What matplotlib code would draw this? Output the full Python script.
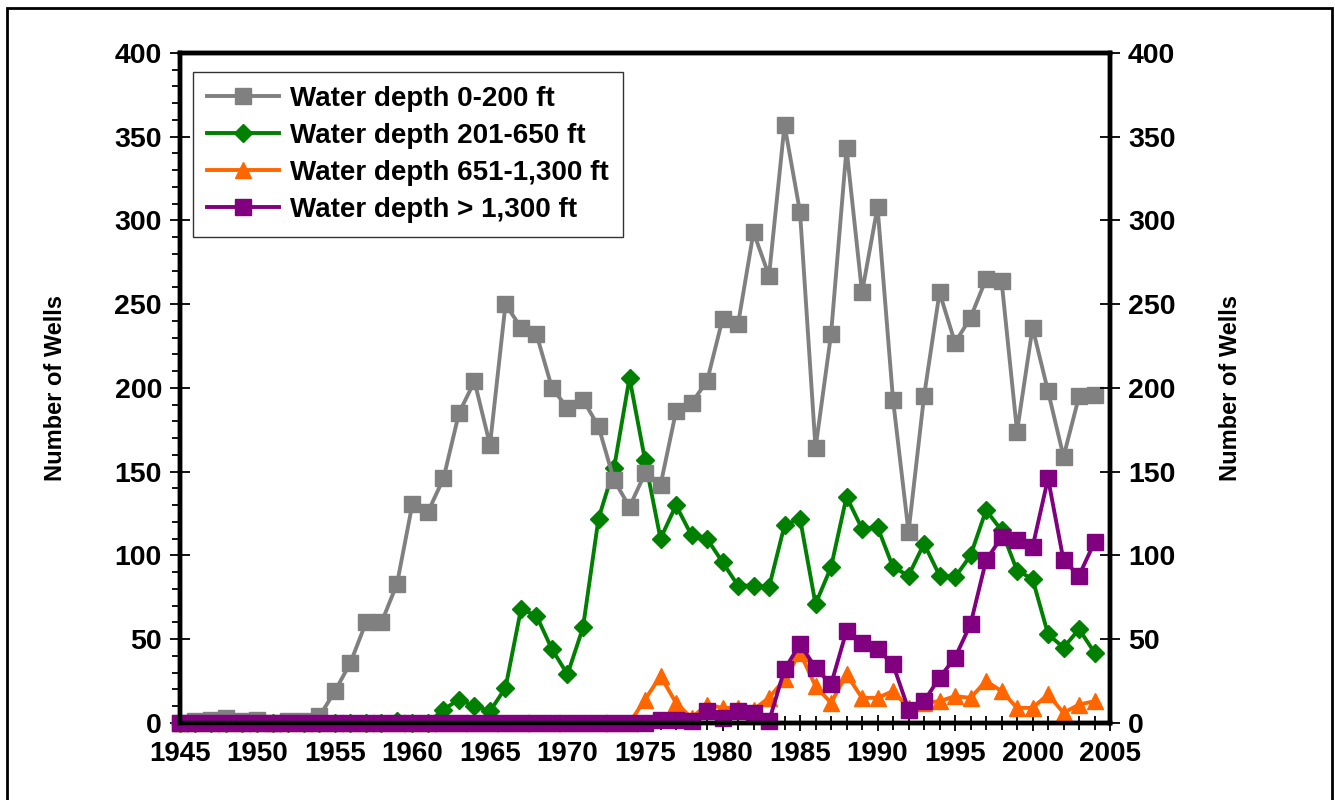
import matplotlib.pyplot as plt
from matplotlib.patches import Rectangle
import numpy as np

plt.rcParams['font.family'] = ['Liberation Sans', 'DejaVu Sans']
plt.rcParams['font.weight'] = 'bold'

years = np.arange(1945, 2005)

# wells drilled per year by water depth
shallow = [0, 1, 2, 3, 1, 2, 0, 1, 1, 4,
           19, 36, 60, 60, 83, 131, 126, 146, 185, 204,
           166, 250, 236, 232, 200, 188, 193, 177, 145, 129,
           149, 142, 186, 191, 204, 241, 238, 293, 267, 357,
           305, 164, 232, 343, 257, 308, 193, 114, 195, 257,
           227, 242, 265, 264, 174, 236, 198, 159, 195, 196]
mid = [0, 0, 0, 0, 0, 0, 0, 0, 0, 0,
       0, 0, 0, 0, 1, 0, 0, 8, 14, 10,
       7, 21, 68, 64, 44, 29, 57, 122, 152, 206,
       157, 110, 130, 112, 110, 96, 82, 82, 81, 118,
       122, 71, 93, 135, 116, 117, 93, 88, 107, 88,
       87, 100, 127, 115, 91, 86, 53, 45, 56, 42]
deep = [0, 0, 0, 0, 0, 0, 0, 0, 0, 0,
        0, 0, 0, 0, 0, 0, 0, 0, 0, 0,
        0, 0, 0, 0, 0, 0, 0, 0, 0, 0,
        14, 28, 12, 3, 11, 9, 9, 8, 15, 26,
        42, 22, 12, 29, 15, 15, 19, 9, 12, 13,
        16, 15, 25, 19, 9, 9, 17, 6, 11, 13]
ultra = [0, 0, 0, 0, 0, 0, 0, 0, 0, 0,
         0, 0, 0, 0, 0, 0, 0, 0, 0, 0,
         0, 0, 0, 0, 0, 0, 0, 0, 0, 0,
         0, 2, 2, 1, 7, 3, 7, 6, 1, 32,
         47, 33, 23, 55, 48, 44, 35, 8, 13, 27,
         39, 59, 97, 111, 109, 105, 146, 97, 88, 108]

labels = ['Water depth 0-200 ft', 'Water depth 201-650 ft',
          'Water depth 651-1,300 ft', 'Water depth > 1,300 ft']

fig = plt.figure(figsize=(13.35, 8), dpi=100)
ax = fig.add_axes([0.1348, 0.0963, 0.6967, 0.8375])

l1, = ax.plot(years, shallow, color='#808080', marker='s', ms=11.5, lw=2.8, zorder=3, clip_on=False)
l2, = ax.plot(years, mid, color='#008000', marker='D', ms=9.5, lw=2.8, zorder=2, clip_on=False)
l3, = ax.plot(years, deep, color='#FF6600', marker='^', ms=11.5, lw=2.8, zorder=4, clip_on=False)
l4, = ax.plot(years, ultra, color='#800080', marker='s', ms=11.5, lw=2.8, zorder=5, clip_on=False)

ax.set_xlim(1945, 2005)
ax.set_ylim(0, 400)
ax.set_xticks(np.arange(1945, 2006, 5))
ax.set_xticks(np.arange(1945, 2006, 1), minor=True)
ax.set_yticks(np.arange(0, 401, 50))
ax.set_yticks(np.arange(0, 401, 10), minor=True)

for s in ax.spines.values():
    s.set_linewidth(3.2)

ax.tick_params(axis='x', which='major', direction='inout', length=12, width=1.3,
               labelsize=20, pad=7)
ax.tick_params(axis='x', which='minor', direction='inout', length=10, width=1.3)
ax.tick_params(axis='y', which='major', direction='inout', length=14, width=1.3,
               labelsize=20.5, pad=6)
ax.tick_params(axis='y', which='minor', direction='out', length=6, width=1.3)
ax.set_ylabel('Number of Wells', fontsize=17, fontweight='bold', labelpad=34)

ax2 = ax.twinx()
ax2.set_ylim(0, 400)
ax2.set_yticks(np.arange(0, 401, 50))
ax2.tick_params(axis='y', which='major', direction='inout', length=14, width=1.3,
                labelsize=20.5, pad=6)
ax2.set_ylabel('Number of Wells', fontsize=17, fontweight='bold', labelpad=31,
               rotation=90)
ax2.yaxis.set_label_position('right')
for s in ax2.spines.values():
    s.set_linewidth(3.2)

leg = ax.legend([l1, l2, l3, l4], labels, loc='upper left',
                bbox_to_anchor=(0.014, 0.972), borderaxespad=0, fontsize=20,
                frameon=True, fancybox=False, edgecolor='black', handlelength=2.6,
                borderpad=0.5, labelspacing=0.4, handletextpad=0.4)
leg.get_frame().set_linewidth(1.0)
leg.set_zorder(10)
for t in leg.get_texts():
    t.set_fontweight('bold')

fig.patches.append(Rectangle((0.0052, -0.01), 0.9926, 0.9999, transform=fig.transFigure,
                             fill=False, edgecolor='black', lw=2))

fig.savefig('out.png', dpi=100)
